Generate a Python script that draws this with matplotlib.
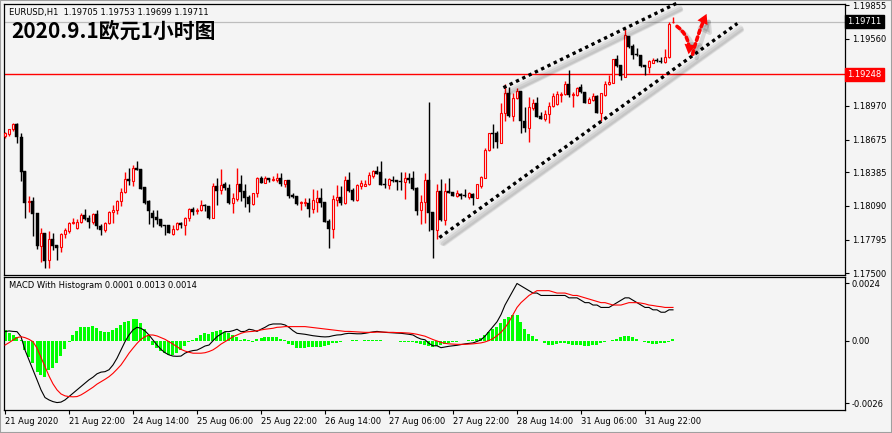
import matplotlib
matplotlib.use("Agg")
import matplotlib.pyplot as plt
from matplotlib.transforms import offset_copy, blended_transform_factory
from matplotlib.patches import Rectangle, FancyArrowPatch
import numpy as np

plt.rcParams['font.family'] = ['DejaVu Sans', 'Noto Sans CJK SC']

# EURUSD H1 candles, 21 Aug 2020 06:00 .. 1 Sep 2020
opens = [1.18710, 1.18719, 1.18763, 1.18807, 1.18701, 1.18401, 1.18127, 1.18136, 1.18030, 1.17739,
         1.17853, 1.17615, 1.17800, 1.17748, 1.17730, 1.17845, 1.17871, 1.17941, 1.17897, 1.17950,
         1.18012, 1.17986, 1.17950, 1.18021, 1.17915, 1.17880, 1.17941, 1.18039, 1.18057, 1.18136,
         1.18215, 1.18330, 1.18313, 1.18427, 1.18419, 1.18260, 1.18136, 1.18030, 1.17995, 1.17977,
         1.17924, 1.17924, 1.17845, 1.17889, 1.17941, 1.17924, 1.17986, 1.18065, 1.18048, 1.18057,
         1.18101, 1.18092, 1.17986, 1.18269, 1.18233, 1.18286, 1.18251, 1.18118, 1.18154, 1.18286,
         1.18224, 1.18171, 1.18109, 1.18207, 1.18339, 1.18295, 1.18339, 1.18322, 1.18322, 1.18339,
         1.18286, 1.18322, 1.18189, 1.18180, 1.18118, 1.18118, 1.18118, 1.18065, 1.18127, 1.18162,
         1.18127, 1.17959, 1.17889, 1.18145, 1.18171, 1.18118, 1.18322, 1.18233, 1.18145, 1.18269,
         1.18269, 1.18286, 1.18357, 1.18401, 1.18392, 1.18286, 1.18278, 1.18322, 1.18322, 1.18313,
         1.18304, 1.18339, 1.18339, 1.18251, 1.18057, 1.18127, 1.18322, 1.18039, 1.17880, 1.18224,
         1.17968, 1.18224, 1.18215, 1.18180, 1.18198, 1.18189, 1.18171, 1.18198, 1.18162, 1.18269,
         1.18339, 1.18586, 1.18728, 1.18728, 1.18648, 1.18904, 1.19081, 1.18878, 1.19037, 1.19098,
         1.18842, 1.18772, 1.18948, 1.18993, 1.18878, 1.18851, 1.18895, 1.18966, 1.18984, 1.19063,
         1.19072, 1.19160, 1.19063, 1.19063, 1.19134, 1.19090, 1.18993, 1.19019, 1.19054, 1.18904,
         1.19063, 1.19160, 1.19169, 1.19381, 1.19328, 1.19222, 1.19584, 1.19496, 1.19425, 1.19416,
         1.19328, 1.19310, 1.19346, 1.19372, 1.19363, 1.19355, 1.19399, 1.19705]
highs = [1.18745, 1.18771, 1.18816, 1.18816, 1.18728, 1.18401, 1.18180, 1.18171, 1.18030, 1.17897,
         1.17853, 1.17871, 1.17853, 1.17748, 1.17853, 1.17897, 1.17950, 1.17986, 1.17977, 1.18030,
         1.18065, 1.18012, 1.18030, 1.18057, 1.17932, 1.17950, 1.18048, 1.18101, 1.18145, 1.18250,
         1.18392, 1.18427, 1.18454, 1.18489, 1.18419, 1.18260, 1.18145, 1.18057, 1.18057, 1.17977,
         1.17924, 1.17924, 1.17924, 1.17950, 1.17950, 1.17995, 1.18074, 1.18083, 1.18074, 1.18145,
         1.18109, 1.18092, 1.18295, 1.18339, 1.18419, 1.18304, 1.18286, 1.18207, 1.18427, 1.18366,
         1.18286, 1.18189, 1.18207, 1.18348, 1.18357, 1.18357, 1.18339, 1.18357, 1.18383, 1.18383,
         1.18322, 1.18322, 1.18207, 1.18180, 1.18136, 1.18162, 1.18162, 1.18242, 1.18233, 1.18251,
         1.18127, 1.17977, 1.18189, 1.18278, 1.18269, 1.18357, 1.18392, 1.18251, 1.18286, 1.18322,
         1.18322, 1.18392, 1.18410, 1.18445, 1.18489, 1.18339, 1.18339, 1.18357, 1.18322, 1.18392,
         1.18392, 1.18383, 1.18401, 1.18260, 1.18189, 1.18383, 1.19001, 1.18039, 1.18286, 1.18330,
         1.18295, 1.18339, 1.18215, 1.18233, 1.18207, 1.18242, 1.18215, 1.18207, 1.18286, 1.18357,
         1.18604, 1.18736, 1.18807, 1.18754, 1.18993, 1.19160, 1.19134, 1.19081, 1.19125, 1.19098,
         1.18957, 1.19045, 1.19028, 1.19045, 1.18913, 1.18931, 1.19001, 1.19081, 1.19098, 1.19090,
         1.19187, 1.19284, 1.19090, 1.19134, 1.19160, 1.19090, 1.19045, 1.19081, 1.19063, 1.19081,
         1.19187, 1.19240, 1.19381, 1.19416, 1.19328, 1.19646, 1.19584, 1.19513, 1.19478, 1.19416,
         1.19328, 1.19372, 1.19390, 1.19390, 1.19399, 1.19469, 1.19708, 1.19753]
lows = [1.18692, 1.18710, 1.18754, 1.18640, 1.18313, 1.17986, 1.18039, 1.17827, 1.17712, 1.17597,
        1.17544, 1.17544, 1.17703, 1.17615, 1.17686, 1.17809, 1.17853, 1.17932, 1.17889, 1.17941,
        1.17968, 1.17897, 1.17932, 1.17889, 1.17836, 1.17862, 1.17932, 1.17941, 1.18021, 1.18092,
        1.18207, 1.18278, 1.18269, 1.18410, 1.18242, 1.18109, 1.17932, 1.17906, 1.17932, 1.17906,
        1.17836, 1.17853, 1.17836, 1.17880, 1.17897, 1.17836, 1.17959, 1.18012, 1.18021, 1.18048,
        1.18048, 1.17977, 1.17986, 1.18101, 1.18198, 1.18233, 1.18109, 1.18030, 1.18136, 1.18136,
        1.18083, 1.18039, 1.18101, 1.18171, 1.18295, 1.18295, 1.18304, 1.18313, 1.18304, 1.18269,
        1.18260, 1.18162, 1.18162, 1.18101, 1.18057, 1.18092, 1.17995, 1.18030, 1.18039, 1.18083,
        1.17950, 1.17721, 1.17809, 1.18092, 1.18101, 1.18109, 1.18215, 1.18136, 1.18136, 1.18242,
        1.18269, 1.18278, 1.18339, 1.18374, 1.18278, 1.18251, 1.18242, 1.18304, 1.18233, 1.18233,
        1.18154, 1.18295, 1.18233, 1.18012, 1.17932, 1.17941, 1.17871, 1.17633, 1.17800, 1.17959,
        1.17924, 1.18207, 1.18180, 1.18171, 1.18154, 1.18171, 1.18154, 1.18101, 1.18162, 1.18251,
        1.18339, 1.18577, 1.18604, 1.18604, 1.18648, 1.18842, 1.18869, 1.18842, 1.19028, 1.18736,
        1.18745, 1.18657, 1.18931, 1.18869, 1.18851, 1.18842, 1.18816, 1.18957, 1.18975, 1.19001,
        1.19063, 1.19045, 1.18957, 1.19054, 1.19081, 1.18993, 1.18993, 1.19010, 1.18904, 1.18842,
        1.19054, 1.19151, 1.19169, 1.19310, 1.19196, 1.19222, 1.19478, 1.19381, 1.19407, 1.19310,
        1.19240, 1.19257, 1.19346, 1.19355, 1.19346, 1.19346, 1.19390, 1.19699]
closes = [1.18736, 1.18763, 1.18807, 1.18701, 1.18392, 1.18118, 1.18136, 1.18021, 1.17739, 1.17853,
          1.17606, 1.17800, 1.17739, 1.17721, 1.17845, 1.17880, 1.17941, 1.17950, 1.17950, 1.18012,
          1.17977, 1.17950, 1.18021, 1.17915, 1.17880, 1.17941, 1.18039, 1.18057, 1.18136, 1.18215,
          1.18330, 1.18313, 1.18427, 1.18410, 1.18242, 1.18118, 1.18048, 1.17986, 1.17968, 1.17915,
          1.17915, 1.17853, 1.17889, 1.17941, 1.17924, 1.17986, 1.18065, 1.18039, 1.18057, 1.18101,
          1.18092, 1.17986, 1.18269, 1.18224, 1.18278, 1.18251, 1.18118, 1.18162, 1.18286, 1.18215,
          1.18162, 1.18109, 1.18207, 1.18339, 1.18295, 1.18339, 1.18322, 1.18330, 1.18339, 1.18286,
          1.18322, 1.18180, 1.18171, 1.18109, 1.18127, 1.18127, 1.18065, 1.18145, 1.18162, 1.18118,
          1.17950, 1.17889, 1.18154, 1.18171, 1.18118, 1.18322, 1.18224, 1.18145, 1.18278, 1.18295,
          1.18286, 1.18366, 1.18401, 1.18374, 1.18278, 1.18278, 1.18330, 1.18313, 1.18304, 1.18304,
          1.18339, 1.18322, 1.18242, 1.18048, 1.18127, 1.18322, 1.18030, 1.17880, 1.18224, 1.17968,
          1.18224, 1.18207, 1.18180, 1.18207, 1.18180, 1.18180, 1.18207, 1.18162, 1.18286, 1.18348,
          1.18586, 1.18728, 1.18719, 1.18657, 1.18904, 1.19081, 1.18878, 1.19037, 1.19098, 1.18842,
          1.18772, 1.18957, 1.18993, 1.18869, 1.18851, 1.18895, 1.18966, 1.19054, 1.19072, 1.19072,
          1.19160, 1.19063, 1.19072, 1.19125, 1.19090, 1.18993, 1.19028, 1.19054, 1.18904, 1.19081,
          1.19160, 1.19178, 1.19381, 1.19319, 1.19231, 1.19593, 1.19487, 1.19416, 1.19416, 1.19319,
          1.19310, 1.19363, 1.19372, 1.19363, 1.19355, 1.19399, 1.19690, 1.19711]

# MACD with histogram (main line, signal, histogram)
macd = [0.00039, 0.00042, 0.00040, 0.00039, 0.00018, -0.00038, -0.00079, -0.00120, -0.00162, -0.00204,
        -0.00236, -0.00246, -0.00253, -0.00257, -0.00255, -0.00246, -0.00232, -0.00218, -0.00204, -0.00190,
        -0.00176, -0.00162, -0.00151, -0.00137, -0.00130, -0.00128, -0.00120, -0.00100, -0.00072, -0.00037,
        -0.00003, 0.00025, 0.00046, 0.00057, 0.00053, 0.00042, 0.00025, 0.00004, -0.00017, -0.00035,
        -0.00049, -0.00058, -0.00063, -0.00064, -0.00063, -0.00051, -0.00044, -0.00040, -0.00038, -0.00030,
        -0.00021, -0.00017, 0.00001, 0.00018, 0.00029, 0.00039, 0.00039, 0.00043, 0.00049, 0.00039,
        0.00040, 0.00049, 0.00046, 0.00040, 0.00049, 0.00057, 0.00067, 0.00071, 0.00071, 0.00071,
        0.00067, 0.00057, 0.00043, 0.00032, 0.00030, 0.00028, 0.00025, 0.00022, 0.00020, 0.00018,
        0.00017, 0.00018, 0.00022, 0.00025, 0.00026, 0.00030, 0.00032, 0.00031, 0.00030, 0.00030,
        0.00032, 0.00035, 0.00038, 0.00040, 0.00038, 0.00036, 0.00035, 0.00034, 0.00033, 0.00032,
        0.00030, 0.00028, 0.00025, 0.00015, 0.00008, 0.00005, -0.00010, -0.00020, -0.00020, -0.00028,
        -0.00025, -0.00022, -0.00020, -0.00018, -0.00015, -0.00012, -0.00010, -0.00008, -0.00002, 0.00005,
        0.00020, 0.00040, 0.00060, 0.00080, 0.00110, 0.00150, 0.00180, 0.00210, 0.00240, 0.00230,
        0.00220, 0.00210, 0.00200, 0.00200, 0.00190, 0.00190, 0.00190, 0.00190, 0.00190, 0.00190,
        0.00190, 0.00180, 0.00180, 0.00180, 0.00170, 0.00160, 0.00160, 0.00150, 0.00150, 0.00140,
        0.00140, 0.00140, 0.00150, 0.00160, 0.00170, 0.00180, 0.00180, 0.00170, 0.00160, 0.00150,
        0.00140, 0.00140, 0.00130, 0.00130, 0.00120, 0.00120, 0.00130, 0.00130]
signal = [-0.00017, -0.00007, 0.00004, 0.00014, 0.00018, 0.00014, 0.00007, -0.00003, -0.00030, -0.00068,
          -0.00107, -0.00146, -0.00179, -0.00204, -0.00221, -0.00229, -0.00232, -0.00233, -0.00232, -0.00225,
          -0.00215, -0.00204, -0.00193, -0.00180, -0.00170, -0.00160, -0.00149, -0.00135, -0.00118, -0.00100,
          -0.00076, -0.00051, -0.00030, -0.00010, 0.00007, 0.00018, 0.00025, 0.00025, 0.00021, 0.00014,
          0.00007, -0.00003, -0.00013, -0.00024, -0.00035, -0.00042, -0.00047, -0.00051, -0.00051, -0.00051,
          -0.00049, -0.00044, -0.00037, -0.00026, -0.00013, -0.00003, 0.00007, 0.00018, 0.00025, 0.00032,
          0.00037, 0.00039, 0.00040, 0.00043, 0.00046, 0.00049, 0.00051, 0.00053, 0.00057, 0.00058,
          0.00060, 0.00060, 0.00060, 0.00060, 0.00060, 0.00060, 0.00058, 0.00056, 0.00054, 0.00052,
          0.00050, 0.00048, 0.00046, 0.00044, 0.00042, 0.00040, 0.00040, 0.00039, 0.00038, 0.00037,
          0.00036, 0.00036, 0.00036, 0.00037, 0.00037, 0.00037, 0.00036, 0.00036, 0.00035, 0.00035,
          0.00034, 0.00033, 0.00031, 0.00028, 0.00024, 0.00020, 0.00013, 0.00006, 0.00000, -0.00006,
          -0.00010, -0.00012, -0.00013, -0.00014, -0.00014, -0.00014, -0.00013, -0.00012, -0.00010, -0.00008,
          -0.00004, 0.00002, 0.00010, 0.00022, 0.00036, 0.00055, 0.00080, 0.00110, 0.00140, 0.00160,
          0.00175, 0.00190, 0.00200, 0.00210, 0.00210, 0.00210, 0.00210, 0.00205, 0.00200, 0.00200,
          0.00200, 0.00195, 0.00190, 0.00190, 0.00185, 0.00180, 0.00175, 0.00170, 0.00165, 0.00160,
          0.00160, 0.00155, 0.00150, 0.00150, 0.00150, 0.00155, 0.00160, 0.00160, 0.00160, 0.00158,
          0.00155, 0.00150, 0.00148, 0.00145, 0.00143, 0.00140, 0.00140, 0.00140]
hist = [0.00046, 0.00032, 0.00025, 0.00018, 0.00004, -0.00038, -0.00065, -0.00093, -0.00128, -0.00142,
        -0.00151, -0.00120, -0.00114, -0.00093, -0.00063, -0.00035, -0.00003, 0.00025, 0.00043, 0.00057,
        0.00060, 0.00060, 0.00062, 0.00053, 0.00043, 0.00039, 0.00039, 0.00046, 0.00053, 0.00067,
        0.00078, 0.00085, 0.00090, 0.00090, 0.00074, 0.00049, 0.00025, -0.00017, -0.00030, -0.00042,
        -0.00051, -0.00058, -0.00058, -0.00049, -0.00037, -0.00021, -0.00003, 0.00004, 0.00011, 0.00025,
        0.00032, 0.00030, 0.00039, 0.00043, 0.00046, 0.00039, 0.00035, 0.00025, 0.00018, 0.00004,
        0.00008, 0.00004, -0.00003, 0.00008, 0.00014, 0.00018, 0.00018, 0.00018, 0.00015, 0.00008,
        0.00004, -0.00013, -0.00017, -0.00030, -0.00030, -0.00028, -0.00027, -0.00026, -0.00027, -0.00025,
        -0.00020, -0.00015, -0.00010, -0.00008, -0.00005, -0.00002, 0.00002, 0.00003, 0.00003, 0.00002,
        0.00003, 0.00005, 0.00006, 0.00006, 0.00004, 0.00002, 0.00001, 0.00000, -0.00002, -0.00003,
        -0.00004, -0.00005, -0.00006, -0.00010, -0.00014, -0.00016, -0.00022, -0.00025, -0.00020, -0.00018,
        -0.00014, -0.00010, -0.00006, -0.00004, -0.00001, 0.00002, 0.00003, 0.00004, 0.00008, 0.00013,
        0.00025, 0.00038, 0.00050, 0.00060, 0.00075, 0.00090, 0.00100, 0.00110, 0.00110, 0.00080,
        0.00050, 0.00030, 0.00020, 0.00010, 0.00000, -0.00010, -0.00015, -0.00015, -0.00012, -0.00010,
        -0.00010, -0.00012, -0.00015, -0.00015, -0.00018, -0.00020, -0.00020, -0.00018, -0.00015, -0.00010,
        -0.00005, 0.00000, 0.00005, 0.00010, 0.00015, 0.00020, 0.00020, 0.00015, 0.00010, 0.00002,
        -0.00005, -0.00010, -0.00012, -0.00012, -0.00010, -0.00010, -0.00005, 0.00010]

for name, arr in [('opens', opens), ('highs', highs), ('lows', lows), ('closes', closes),
                  ('macd', macd), ('signal', signal), ('hist', hist)]:
    assert len(arr) == 168, (name, len(arr))

# axis labels
xtick_pos = [0, 16, 32, 48, 64, 80, 96, 112, 128, 144, 160]
xtick_labels = ['21 Aug 2020', '21 Aug 22:00', '24 Aug 14:00', '25 Aug 06:00', '25 Aug 22:00',
                '26 Aug 14:00', '27 Aug 06:00', '27 Aug 22:00', '28 Aug 14:00', '31 Aug 06:00',
                '31 Aug 22:00']
price_ticks = [1.19855, 1.19560, 1.18970, 1.18675, 1.18385, 1.18090, 1.17795, 1.17500]
macd_ticks = [0.0024, 0.0, -0.0026]
macd_tick_labels = ['0.0024', '0.00', '-0.0026']
bid_price = 1.19711
level_price = 1.19248

# hand drawn trend channel and forecast arrows (bar index, price)
upper_line = ([124.6, 167.9], [1.19131, 1.19873])
lower_line = ([108.6, 183.1], [1.17812, 1.19696])
arrow_down = ((168.0, 1.19670), (170.9, 1.19425))
arrow_up = ((171.9, 1.19425), (175.4, 1.19780))

bg = '#f4f4f4'
W, H = 892, 433
fig = plt.figure(figsize=(W / 100, H / 100), dpi=100, facecolor=bg)

def fx(px):
    return px / W

def fy(py):
    return 1 - py / H

ax = fig.add_axes([fx(4), fy(275), fx(845 - 4), fy(4) - fy(275)])
ax2 = fig.add_axes([fx(4), fy(410), fx(845 - 4), fy(277) - fy(410)])

for a in (ax, ax2):
    a.set_facecolor(bg)
    for s in a.spines.values():
        s.set_color('black')
        s.set_linewidth(0.9)
    a.set_xlim(-0.25, 210)

# ---- candles ----
idx = np.arange(len(closes))
o = np.array(opens); h = np.array(highs); l = np.array(lows); c = np.array(closes)
up = c >= o
ax.vlines(idx[up], l[up], h[up], color='red', lw=1.0, zorder=2)
ax.vlines(idx[~up], l[~up], h[~up], color='black', lw=1.0, zorder=2)
body_lo = np.minimum(o, c)
body_h = np.maximum(np.abs(c - o), 0.00002)
ax.bar(idx[up], body_h[up], bottom=body_lo[up], width=0.5, facecolor=bg,
       edgecolor='red', linewidth=0.8, zorder=3)
ax.bar(idx[~up], body_h[~up], bottom=body_lo[~up], width=0.75, facecolor='black',
       edgecolor='black', linewidth=0.3, zorder=3)

ax.set_ylim(1.17483, 1.19867)
ax.axhline(bid_price, color='#bdbdbd', lw=0.9, zorder=1)
ax.axhline(level_price, color='red', lw=1.0, zorder=1)

# channel lines with soft shadow
for xs, ys in (upper_line, lower_line):
    for k, (dx, dy, a_) in enumerate([(3, -5, 0.07), (4, -6, 0.07), (5, -7, 0.06)]):
        tr = offset_copy(ax.transData, fig=fig, x=dx, y=dy, units='dots')
        ax.plot(xs, ys, color='black', lw=4.5 - k, alpha=a_, transform=tr,
                solid_capstyle='round', zorder=4, clip_on=False)
    ax.plot(xs, ys, color='black', lw=2.4, dashes=(1, 1.1), dash_capstyle='butt',
            zorder=5, clip_on=False)

# forecast arrows: soft shadow, dotted shaft, solid head
for (start, end), rad in ((arrow_down, -0.3), (arrow_up, -0.05)):
    tr = offset_copy(ax.transData, fig=fig, x=4, y=-4, units='dots')
    ax.add_patch(FancyArrowPatch(start, end, transform=tr,
                                 arrowstyle='-|>,head_length=0.7,head_width=0.4',
                                 mutation_scale=10, color='black', alpha=0.12, lw=3,
                                 shrinkA=0, shrinkB=0, connectionstyle='arc3,rad=%s' % rad,
                                 zorder=5, clip_on=False))
    ax.add_patch(FancyArrowPatch(start, end, arrowstyle='-', color='red', lw=2.6,
                                 linestyle=(0, (1, 1)), shrinkA=0, shrinkB=7,
                                 connectionstyle='arc3,rad=%s' % rad, zorder=6, clip_on=False))
    ax.add_patch(FancyArrowPatch(start, end,
                                 arrowstyle='-|>,head_length=0.7,head_width=0.4',
                                 mutation_scale=10, color='red', lw=0, shrinkA=0, shrinkB=0,
                                 connectionstyle='arc3,rad=%s' % rad, zorder=6, clip_on=False))

ax.set_xticks([])
ax.yaxis.tick_right()
ax.set_yticks(price_ticks)
ax.set_yticklabels(['%.5f' % p for p in price_ticks])
ax.tick_params(axis='y', direction='out', length=3, width=0.8, pad=2, labelsize=6, colors='black')

yt = blended_transform_factory(ax.transAxes, ax.transData)
ax.text(1.003, bid_price, '%.5f' % bid_price, transform=yt, fontsize=6, color='white',
        va='center', ha='left', bbox=dict(boxstyle='square,pad=0.25', fc='black', ec='black'))
ax.text(1.003, level_price, '%.5f' % level_price, transform=yt, fontsize=6, color='white',
        va='center', ha='left', bbox=dict(boxstyle='square,pad=0.25', fc='red', ec='red'))

ax.text(fx(9) - fx(4), 1 - (13 - 4) / 271, 'EURUSD,H1  1.19705 1.19753 1.19699 1.19711',
        transform=ax.transAxes, fontsize=6, va='center', ha='left')
ax.text(fx(12) - fx(4), 1 - (31 - 4) / 271, '2020.9.1欧元1小时图', transform=ax.transAxes,
        fontsize=15, fontweight='bold', family=['Noto Sans CJK SC', 'DejaVu Sans'],
        va='center', ha='left')

# ---- MACD panel ----
ax2.bar(idx, hist, width=0.75, color='#00ff00', zorder=2)
ax2.plot(idx, macd, color='black', lw=0.8, zorder=3)
ax2.plot(idx, signal, color='red', lw=0.8, zorder=3)
ax2.set_ylim(-0.00288, 0.00267)
ax2.yaxis.tick_right()
ax2.set_yticks(macd_ticks)
ax2.set_yticklabels(macd_tick_labels)
ax2.tick_params(axis='y', direction='out', length=3, width=0.8, pad=2, labelsize=6)
ax2.set_xticks(xtick_pos)
ax2.set_xticklabels(xtick_labels)
ax2.tick_params(axis='x', direction='out', length=3, width=0.8, pad=2, labelsize=6)
for lab in ax2.get_xticklabels():
    lab.set_ha('left')
ax2.text(fx(9) - fx(4), 1 - (285 - 277) / 133, 'MACD With Histogram 0.0001 0.0013 0.0014',
         transform=ax2.transAxes, fontsize=6, va='center', ha='left')

fig.patches.append(Rectangle((0, 0), 1, 1, transform=fig.transFigure, fill=False,
                             edgecolor='#a0a0a0', lw=1.5))

fig.savefig('out.png', dpi=100, facecolor=bg)
